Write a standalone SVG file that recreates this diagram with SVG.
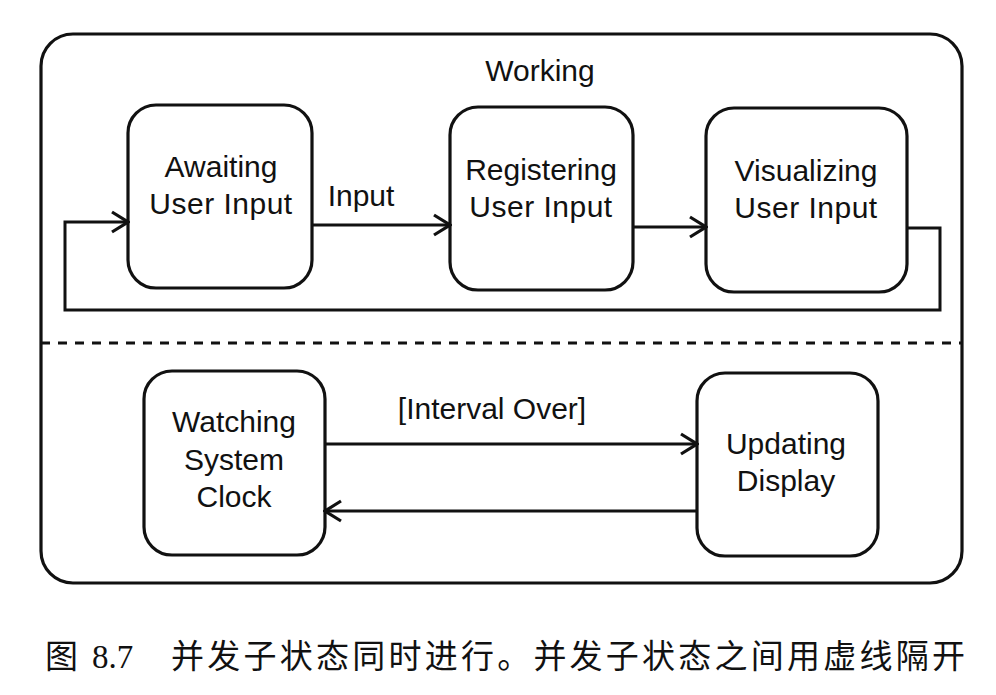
<svg xmlns="http://www.w3.org/2000/svg" width="996" height="695" viewBox="0 0 996 695">
<style>
.box{fill:#fff;stroke:#111;stroke-width:3.2}
.ln{fill:none;stroke:#111;stroke-width:3}
.t{font-family:"Liberation Sans",Arial,sans-serif;font-size:30px;fill:#111;text-anchor:middle}
.cap{font-family:"Liberation Serif","Noto Sans CJK SC",serif;font-size:33px;fill:#111}
</style>
<defs>
<marker id="ah" viewBox="0 0 20 24" refX="18" refY="12" markerWidth="20" markerHeight="24" markerUnits="userSpaceOnUse" orient="auto">
<path d="M2,2 L18,12 L2,22" fill="none" stroke="#111" stroke-width="3.2"/>
</marker>
</defs>
<rect width="996" height="695" fill="#fff"/>
<g id="working">
<rect class="box" x="41" y="34" width="921" height="549" rx="32"/>
<text class="t" x="540" y="81">Working</text>
<line x1="41" y1="343" x2="962" y2="343" stroke="#111" stroke-width="3.2" stroke-dasharray="9,8"/>
</g>
<g id="awaiting">
<rect class="box" x="128" y="105" width="184" height="183" rx="28"/>
<text class="t" x="221" y="177">Awaiting</text>
<text class="t" x="221" y="214" letter-spacing="0.5">User Input</text>
</g>
<g id="registering">
<rect class="box" x="450" y="107" width="183" height="183" rx="28"/>
<text class="t" x="541" y="180">Registering</text>
<text class="t" x="541" y="217" letter-spacing="0.5">User Input</text>
</g>
<g id="visualizing">
<rect class="box" x="706" y="108" width="201" height="184" rx="28"/>
<text class="t" x="806" y="181">Visualizing</text>
<text class="t" x="806" y="218" letter-spacing="0.5">User Input</text>
</g>
<g id="watching">
<rect class="box" x="144" y="371" width="181" height="184" rx="28"/>
<text class="t" x="234" y="432">Watching</text>
<text class="t" x="234" y="470">System</text>
<text class="t" x="234" y="507">Clock</text>
</g>
<g id="updating">
<rect class="box" x="697" y="373" width="181" height="183" rx="28"/>
<text class="t" x="786" y="454">Updating</text>
<text class="t" x="786" y="491">Display</text>
</g>
<g id="connectors">
<path class="ln" d="M312,225 L450,225" marker-end="url(#ah)"/>
<text class="t" x="361" y="206">Input</text>
<path class="ln" d="M633,227 L706,227" marker-end="url(#ah)"/>
<path class="ln" d="M907,228 L940,228 L940,310 L65,310 L65,222 L128,222" marker-end="url(#ah)"/>
<path class="ln" d="M325,444 L697,444" marker-end="url(#ah)"/>
<text class="t" x="492" y="419">[Interval Over]</text>
<path class="ln" d="M697,511 L325,511" marker-end="url(#ah)"/>
</g>
<g id="caption">
<text class="cap" x="45" y="668">图</text>
<text class="cap" x="92" y="668">8.7</text>
<text class="cap" x="171" y="668" textLength="794" lengthAdjust="spacing">并发子状态同时进行。并发子状态之间用虚线隔开</text>
</g>
</svg>
